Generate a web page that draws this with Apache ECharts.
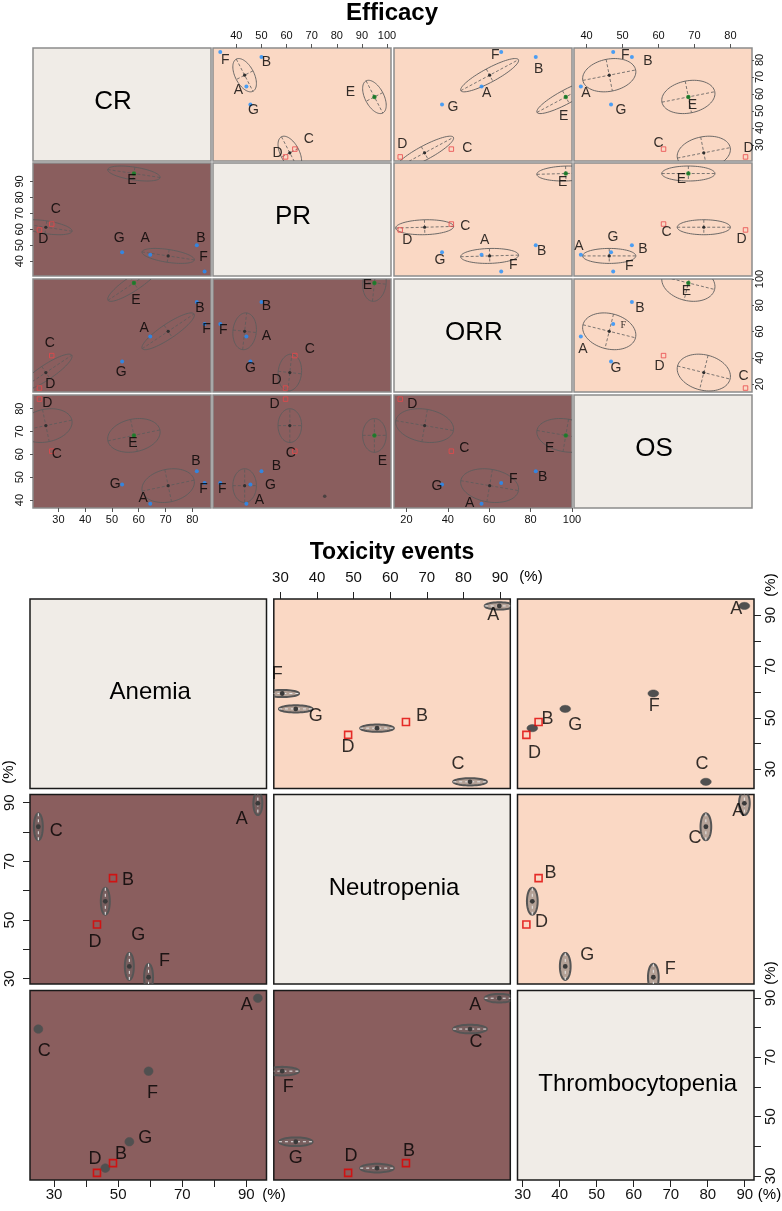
<!DOCTYPE html>
<html>
<head>
<meta charset="utf-8">
<script src="https://cdn.jsdelivr.net/npm/echarts@6/dist/echarts.min.js"></script>
<style>
html, body { margin: 0; padding: 0; background: #fff; }
#main { width: 782px; height: 1211px; }
</style>
</head>
<body>
<div id="main"></div>
<script>
// ---------- Efficacy (%), one value per study ----------
var effStudies = ['A', 'B', 'C', 'D', 'E', 'F', 'G'];
var crValues  = [64.3, 81.7, 27.5, 22.9, 58.2, 84.6, 53.8];
var prValues  = [44.0, 50.0, 63.3, 59.6, 95.0, 33.6, 45.6];
var orrValues = [56.3, 82.5, 41.7, 17.0, 97.0, 65.8, 37.2];
var osValues  = [38.4, 52.6, 61.4, 84.2, 68.3, 47.4, 46.8];
var effGroup  = ['blue', 'blue', 'red', 'red', 'green', 'blue', 'blue'];

// cluster ellipses (centre per variable), shared spread and correlations
var clusterCR  = [71.0, 58.2, 25.3];
var clusterPR  = [43.3, 95.0, 61.3];
var clusterORR = [60.2, 97.0, 28.8];
var clusterOS  = [46.3, 68.3, 72.6];
var clusterSpread = [9.8, 4.7, 14.0, 7.4];          // CR, PR, ORR, OS
var clusterCorr = [
  [1.0, -0.5, 0.88, 0.2],
  [-0.5, 1.0, 0.1, 0.0],
  [0.88, 0.1, 1.0, -0.2],
  [0.2, 0.0, -0.2, 1.0]
];
var strayPR = [75.2], strayOS = [41.6];             // lone dot in the OS/PR panel

var crTicks     = [30, 40, 50, 60, 70, 80];
var prTopTicks  = [40, 50, 60, 70, 80, 90, 100];
var prLeftTicks = [40, 50, 60, 70, 80, 90];
var orrTicks    = [20, 40, 60, 80, 100];
var osTicks     = [40, 50, 60, 70, 80];

// ---------- Toxicity events (%) ----------
var toxStudies = ['A', 'B', 'C', 'D', 'F', 'G', ''];
var anemiaValues   = [93.6, 48.4, 25.1, 43.4, 59.5, 53.5, 46.0];
var neutroValues   = [89.8, 64.3, 81.8, 48.5, 30.5, 34.2, 56.4];
var thromboValues  = [89.9, 34.3, 79.5, 31.0, 65.3, 41.5, 32.6];
var toxKind        = ['ellipse', 'square', 'ellipse', 'square', 'ellipse', 'ellipse', 'ellipse'];
var anemiaSpread   = [1.4, 0, 1.4, 0, 1.4, 1.4, 1.4];
var neutroSpread   = [4.0, 0, 4.6, 0, 4.6, 4.6, 4.6];
var thromboSpread  = [1.45, 0, 1.45, 0, 1.45, 1.45, 1.45];
var toxTicks    = [30, 40, 50, 60, 70, 80, 90];
var toxOddTicks = [30, 50, 70, 90];

// ---------- layout / style ----------
var FONT = "'Liberation Sans', Arial, sans-serif";
var PEACH = '#FAD8C4', BROWN = '#8A5E5E', DIAG = '#F0ECE7';

var effNames = ['CR', 'PR', 'ORR', 'OS'];
var effVals = [crValues, prValues, orrValues, osValues];
var effCenters = [clusterCR, clusterPR, clusterORR, clusterOS];
var effRange = [[20.5, 87], [30.7, 101.6], [14, 100], [36.5, 86]];
var effXTicks = [crTicks, prTopTicks, orrTicks, osTicks];
var effYTicks = [crTicks, prLeftTicks, orrTicks, osTicks];
var effLeft = [33, 213, 394, 574], effTop = [48, 163, 279, 395], effW = 178, effH = 113;

// label offsets (px from point) per panel, order A..G
var effLabelOff = {
  '0,1': [[-8,4],[5,5],[14,-10],[-8,-4],[-24,-5],[5,8],[3,6]],
  '0,2': [[5,7],[3,12],[16,-1],[2,-13],[-2,19],[-6,3],[11,3]],
  '0,3': [[5,7],[16,4],[-5,-6],[3,-9],[4,8],[12,3],[10,6]],
  '1,0': [[-5,-17],[4,-7],[4,-15],[4,9],[-2,7],[-1,-14],[-3,-14]],
  '1,2': [[3,-15],[6,6],[14,2],[7,10],[-3,9],[12,-6],[-2,8]],
  '1,3': [[-2,-9],[11,4],[3,8],[-4,9],[-7,6],[16,-5],[2,-15]],
  '2,0': [[-6,-8],[3,6],[-2,-12],[11,-4],[2,17],[2,5],[-1,11]],
  '2,1': [[20,0],[5,4],[15,-6],[-9,-8],[-7,2],[3,6],[0,7]],
  '2,3': [[2,13],[8,6],[80,21],[-86,-22],[-2,8],[10,1],[5,7]],
  '3,0': [[-7,-6],[-1,-10],[5,3],[8,4],[-1,8],[-1,6],[-7,0]],
  '3,1': [[13,-4],[15,-5],[-4,2],[-11,5],[8,26],[2,6],[20,1]],
  '3,2': [[-12,-1],[7,6],[13,-3],[12,5],[-16,13],[12,-4],[-5,2]]
};

var toxNames = ['Anemia', 'Neutropenia', 'Thrombocytopenia'];
var toxVals = [anemiaValues, neutroValues, thromboValues];
var toxSpreads = [anemiaSpread, neutroSpread, thromboSpread];
var toxRange = [[22.5, 96.3], [28.2, 92.8], [28.6, 92.5]];
var toxLeft = [30, 273.8, 517.5], toxTop = [599, 794.5, 990.5], toxW = 236.5, toxH = 189.5;
var toxLabelOff = {
  '0,1': [[-6,9],[16,-6],[-12,-18],[0,12],[-5,-19],[20,7]],
  '0,2': [[-8,3],[9,-3],[-4,-18],[8,18],[1,13],[10,16]],
  '1,0': [[-16,16],[15,2],[18,4],[-2,18],[16,-16],[9,-31]],
  '1,2': [[-6,8],[12,-5],[-11,11],[15,-2],[17,-8],[22,-11]],
  '2,0': [[-11,7],[8,-9],[6,22],[-2,-14],[4,22],[16,-4]],
  '2,1': [[-24,7],[3,-12],[6,13],[3,-17],[6,16],[0,16]]
};

var grids = [], xAxes = [], yAxes = [], series = [], graphics = [];

function axisCfg(range, pos, shown, ticks, labels, st) {
  return {
    type: 'value', min: range[0], max: range[1], position: pos,
    axisLine: { show: false }, splitLine: { show: false },
    axisTick: { show: shown, inside: false, length: st.tick, customValues: ticks,
                lineStyle: { color: st.color, width: 1 } },
    axisLabel: { show: shown, customValues: labels, margin: st.margin, rotate: st.rotate || 0,
                 fontSize: st.size, color: '#111', fontFamily: FONT }
  };
}

function addGrid(left, top, w, h, bg, border, bw) {
  grids.push({ left: left, top: top, width: w, height: h, show: true,
               backgroundColor: bg, borderColor: border, borderWidth: bw });
  return grids.length - 1;
}

function renderCluster(params, api) {
  var cx = api.value(0), cy = api.value(1), sx = api.value(2), sy = api.value(3), r = api.value(4);
  var c = api.coord([cx, cy]);
  var ex = api.coord([cx + sx, cy])[0] - c[0];
  var ey = api.coord([cx, cy + sy])[1] - c[1];
  var a = ex * ex, d = ey * ey, b = r * ex * ey;
  var m = (a + d) / 2, q = Math.sqrt((a - d) * (a - d) / 4 + b * b);
  var R1 = Math.sqrt(m + q), R2 = Math.sqrt(Math.max(m - q, 0));
  var th = 0.5 * Math.atan2(2 * b, a - d), ct = Math.cos(th), s = Math.sin(th);
  var pts = [];
  for (var k = 0; k <= 72; k++) {
    var t = k / 72 * 2 * Math.PI, u = R1 * Math.cos(t), v = R2 * Math.sin(t);
    pts.push([c[0] + u * ct - v * s, c[1] + u * s + v * ct]);
  }
  var col = '#5c5c5c';
  var cs = params.coordSys;
  return {
    type: 'group',
    clipPath: { type: 'rect', shape: { x: cs.x, y: cs.y, width: cs.width, height: cs.height } },
    children: [
      { type: 'polyline', shape: { points: pts }, style: { stroke: col, lineWidth: 0.9, fill: null } },
      { type: 'line', shape: { x1: c[0] - R1 * ct, y1: c[1] - R1 * s, x2: c[0] + R1 * ct, y2: c[1] + R1 * s },
        style: { stroke: col, lineWidth: 0.8, lineDash: [3, 2] } },
      { type: 'line', shape: { x1: c[0] + R2 * s, y1: c[1] - R2 * ct, x2: c[0] - R2 * s, y2: c[1] + R2 * ct },
        style: { stroke: col, lineWidth: 0.8, lineDash: [3, 2] } },
      { type: 'circle', shape: { cx: c[0], cy: c[1], r: 1.6 }, style: { fill: '#2f2f2f' } }
    ]
  };
}

function renderToxEllipse(params, api) {
  var x = api.value(0), y = api.value(1);
  var c = api.coord([x, y]);
  var rx = Math.abs(api.coord([x + api.value(2), y])[0] - c[0]);
  var ry = Math.abs(api.coord([x, y + api.value(3)])[1] - c[1]);
  var pts = [];
  for (var k = 0; k <= 48; k++) {
    var t = k / 48 * 2 * Math.PI;
    pts.push([c[0] + rx * Math.cos(t), c[1] + ry * Math.sin(t)]);
  }
  var cs = params.coordSys;
  var children;
  if (api.value(4) === 1) {
    children = [{ type: 'polygon', shape: { points: pts }, style: { fill: '#505050', stroke: '#505050', lineWidth: 0.5 } }];
  } else {
    var horiz = rx >= ry;
    children = [
      { type: 'polygon', shape: { points: pts }, style: { fill: 'rgba(95,95,95,0.45)', stroke: '#555', lineWidth: 2 } },
      { type: 'line', shape: horiz ? { x1: c[0] - rx, y1: c[1], x2: c[0] + rx, y2: c[1] }
                                   : { x1: c[0], y1: c[1] - ry, x2: c[0], y2: c[1] + ry },
        style: { stroke: '#e8e8e8', lineWidth: 1, lineDash: [3, 3] } },
      { type: 'circle', shape: { cx: c[0], cy: c[1], r: 2.4 }, style: { fill: '#3a3a3a' } }
    ];
  }
  return { type: 'group', children: children,
           clipPath: { type: 'rect', shape: { x: cs.x, y: cs.y, width: cs.width, height: cs.height } } };
}

function txt(text, x, y, size, opts) {
  opts = opts || {};
  graphics.push({
    type: 'text', x: x, y: y, rotation: opts.rot || 0, silent: true,
    style: { text: text, fontSize: size, fontFamily: FONT, fontWeight: opts.bold ? 'bold' : 'normal',
             fill: '#000', align: 'center', verticalAlign: 'middle' }
  });
}

// ---------- Efficacy matrix ----------
for (var i = 0; i < 4; i++) {
  for (var j = 0; j < 4; j++) {
    var bg = i === j ? DIAG : (j > i ? PEACH : BROWN);
    var g = addGrid(effLeft[j], effTop[i], effW, effH, bg, '#8c8c8c', 1.5);
    var xTop = j % 2 === 1;
    var xShown = xTop ? i === 0 : i === 3;
    var yRight = i % 2 === 0;
    var yShown = yRight ? j === 3 : j === 0;
    var xa = axisCfg(effRange[j], xTop ? 'top' : 'bottom', xShown, effXTicks[j], effXTicks[j],
                     { tick: 4, color: '#555', margin: xTop ? 7 : 6, size: 11 });
    var ya = axisCfg(effRange[i], yRight ? 'right' : 'left', yShown, effYTicks[i], effYTicks[i],
                     { tick: yRight ? 2 : 3, color: '#555', margin: yRight ? 2 : 8, size: 11, rotate: 90 });
    xa.gridIndex = g; ya.gridIndex = g;
    xAxes.push(xa); yAxes.push(ya);

    if (i === j) {
      txt(effNames[i], effLeft[j] + effW / 2 - 9, effTop[i] + effH / 2 - 3, 26);
      continue;
    }
    var cl = [];
    for (var k = 0; k < 3; k++) {
      cl.push([effCenters[j][k], effCenters[i][k], clusterSpread[j], clusterSpread[i], clusterCorr[i][j]]);
    }
    series.push({ type: 'custom', xAxisIndex: g, yAxisIndex: g, renderItem: renderCluster,
                  data: cl, encode: { x: 0, y: 1 }, silent: true, z: 2 });

    var offs = effLabelOff[i + ',' + j];
    var pts = [];
    for (var s = 0; s < effStudies.length; s++) {
      var grp = effGroup[s];
      var lab = { show: true, position: 'inside', offset: offs[s], formatter: '{b}',
                  fontSize: 14, color: '#000', fontFamily: FONT };
      if (i === 2 && j === 3 && effStudies[s] === 'F') {
        lab.fontSize = 10; lab.fontFamily = "'Liberation Serif', serif";
      }
      pts.push({
        name: effStudies[s],
        value: [effVals[j][s], effVals[i][s]],
        symbol: grp === 'red' ? 'rect' : 'circle',
        symbolSize: grp === 'green' ? 4.5 : (grp === 'red' ? 4.5 : 4),
        itemStyle: grp === 'red' ? { color: 'rgba(0,0,0,0)', borderColor: '#e8474a', borderWidth: 1 }
                                 : { color: grp === 'green' ? '#1c8a2c' : '#1e8fff' },
        label: lab
      });
    }
    series.push({ type: 'scatter', xAxisIndex: g, yAxisIndex: g, data: pts, silent: true, z: 3 });

    if (i === 3 && j === 1) {
      series.push({ type: 'scatter', xAxisIndex: g, yAxisIndex: g, silent: true, z: 3,
                    symbolSize: 3.5, itemStyle: { color: '#3a3a3a' },
                    data: strayPR.map(function (v, n) { return [v, strayOS[n]]; }) });
    }
  }
}
txt('Efficacy', 392, 13, 24, { bold: true });

// ---------- Toxicity matrix ----------
for (var i2 = 0; i2 < 3; i2++) {
  for (var j2 = 0; j2 < 3; j2++) {
    var bg2 = i2 === j2 ? DIAG : (j2 > i2 ? PEACH : BROWN);
    var g2 = addGrid(toxLeft[j2], toxTop[i2], toxW, toxH, bg2, '#1a1a1a', 1.5);
    var xTop2 = j2 === 1;
    var xShown2 = xTop2 ? i2 === 0 : i2 === 2;
    var yLeft2 = i2 === 1;
    var yShown2 = yLeft2 ? j2 === 0 : j2 === 2;
    var xLabels = j2 === 0 ? toxOddTicks : toxTicks;
    var xa2 = axisCfg(toxRange[j2], xTop2 ? 'top' : 'bottom', xShown2, toxTicks, xLabels,
                      { tick: 7, color: '#222', margin: xTop2 ? 14 : 7, size: 15 });
    var ya2 = axisCfg(toxRange[i2], yLeft2 ? 'left' : 'right', yShown2, toxTicks, toxOddTicks,
                      { tick: 7, color: '#222', margin: yLeft2 ? 13 : 9, size: 15, rotate: 90 });
    xa2.gridIndex = g2; ya2.gridIndex = g2;
    xAxes.push(xa2); yAxes.push(ya2);

    if (i2 === j2) {
      txt(toxNames[i2], toxLeft[j2] + toxW / 2 + 2, toxTop[i2] + toxH / 2 - 1, 24);
      continue;
    }
    var filled = (i2 !== 1 && j2 !== 1) ? 1 : 0;
    var ell = [], marks = [];
    var offs2 = toxLabelOff[i2 + ',' + j2];
    for (var s2 = 0; s2 < toxStudies.length; s2++) {
      var xv = toxVals[j2][s2], yv = toxVals[i2][s2];
      var isSq = toxKind[s2] === 'square';
      if (!isSq) {
        ell.push([xv, yv, toxSpreads[j2][s2], toxSpreads[i2][s2], filled]);
      }
      if (isSq || toxStudies[s2]) {
        marks.push({
          name: toxStudies[s2], value: [xv, yv],
          symbol: 'rect', symbolSize: isSq ? 7 : 1,
          itemStyle: isSq ? { color: 'rgba(0,0,0,0)', borderColor: '#e00000', borderWidth: 1.6 }
                          : { color: 'rgba(0,0,0,0)' },
          label: { show: !!toxStudies[s2], position: 'inside', offset: offs2[s2], formatter: '{b}',
                   fontSize: 18, color: '#000', fontFamily: FONT }
        });
      }
    }
    series.push({ type: 'custom', xAxisIndex: g2, yAxisIndex: g2, renderItem: renderToxEllipse,
                  data: ell, encode: { x: 0, y: 1 }, silent: true, z: 2 });
    series.push({ type: 'scatter', xAxisIndex: g2, yAxisIndex: g2, data: marks, silent: true, z: 3 });
  }
}
txt('Toxicity events', 392, 553, 23, { bold: true });
txt('(%)', 531, 577, 15);
txt('(%)', 274, 1195, 15);
txt('(%)', 769.5, 1195, 15);
txt('(%)', 771, 585, 15, { rot: Math.PI / 2 });
txt('(%)', 9, 772, 15, { rot: Math.PI / 2 });
txt('(%)', 771, 973, 15, { rot: Math.PI / 2 });

var chart = echarts.init(document.getElementById('main'));
chart.setOption({
  animation: false,
  backgroundColor: '#fff',
  textStyle: { fontFamily: FONT },
  grid: grids,
  xAxis: xAxes,
  yAxis: yAxes,
  series: series,
  graphic: graphics
});
</script>
</body>
</html>
